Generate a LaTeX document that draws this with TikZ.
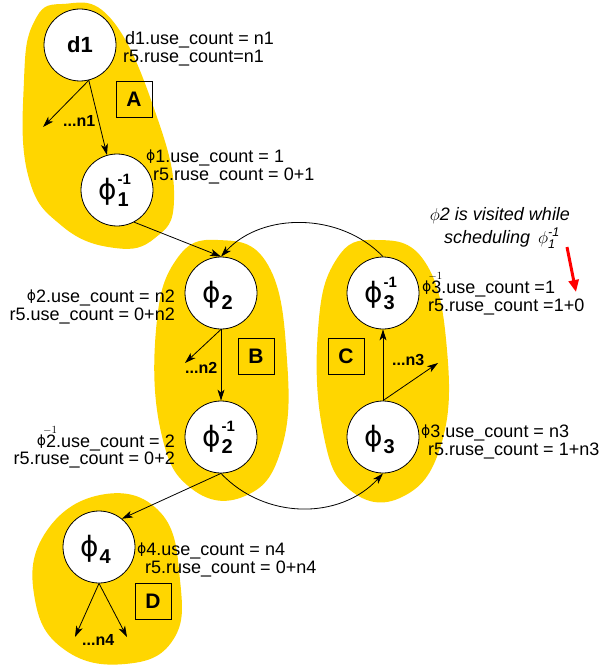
\documentclass[tikz,border=0pt]{standalone}
\usepackage{amsmath}
\usepackage{fontspec}
\setmainfont{Liberation Sans}
\newfontfamily\phf{DejaVu Sans}
\usetikzlibrary{arrows.meta}
\definecolor{blob}{RGB}{255,214,0}

% phi inside a node: #1 subscript, #2 superscript
\newcommand\phn[2]{{\fontsize{28}{28}\phf ϕ}\kern1pt\rlap{\raisebox{15pt}{\fontsize{15}{15}\selectfont\bfseries #2}}\raisebox{-7pt}{\fontsize{20}{20}\selectfont\bfseries #1}\vphantom{\raisebox{15pt}{\fontsize{15}{15}\selectfont\bfseries 1}}\kern7pt}
% phi in the count labels
\newcommand\lph{\raisebox{1.5pt}{\fontsize{14}{14}\phf ϕ}}
\newcommand\lphi{\lph\rlap{\hspace{-3pt}\raisebox{14pt}{\fontsize{11}{11}\selectfont$-1$}}}

\begin{document}
\begin{tikzpicture}[x=1pt,y=-1pt,
  vnode/.style={circle,draw,fill=white,line width=0.8pt,minimum size=72pt,inner sep=0pt},
  arr/.style={-{Stealth[length=11pt,width=7pt,inset=3pt]},line width=0.8pt},
  lab/.style={font=\fontsize{18}{18}\selectfont,inner sep=0pt,anchor=base west},
  labr/.style={lab,anchor=base east},
  more/.style={font=\fontsize{16}{16}\selectfont\bfseries,inner sep=0pt,anchor=base west},
  regbox/.style={draw,line width=0.8pt,minimum size=36pt,inner sep=0pt,font=\fontsize{21}{21}\selectfont\bfseries}]
\useasboundingbox (0,0) rectangle (600,666);

% scheduling regions
\fill[blob] plot[smooth cycle,tension=0.75] coordinates {(62,4) (112,20) (158,120) (174,200) (155,238) (115,248) (62,226) (28,175) (24,80) (34,22)};
\fill[blob] plot[smooth cycle,tension=0.75] coordinates {(218,240) (268,265) (287,360) (281,450) (245,496) (192,489) (161,432) (156,330) (176,260)};
\fill[blob] plot[smooth cycle,tension=0.75] coordinates {(375,240) (425,262) (447,350) (441,445) (402,497) (350,490) (323,432) (318,330) (336,260)};
\fill[blob] plot[smooth cycle,tension=0.75] coordinates {(100,495) (160,512) (180,580) (173,640) (125,664) (65,650) (35,600) (44,535)};

% region labels
\node[regbox] (boxA) at (134,99) {A};
\node[regbox] (boxB) at (256,356) {B};
\node[regbox] (boxC) at (346,356) {C};
\node[regbox] (boxD) at (153,601) {D};

% definitions and phi nodes
\node[vnode,font=\fontsize{22}{22}\selectfont\bfseries] (d1) at (80,45) {d1};
\node[vnode] (p1i) at (117,190) {\phn{1}{-1}};
\node[vnode] (p2) at (221,293) {\phn{2}{}};
\node[vnode] (p2i) at (221,437) {\phn{2}{-1}};
\node[vnode] (p3i) at (383,293) {\phn{3}{-1}};
\node[vnode] (p3) at (383,437) {\phn{3}{}};
\node[vnode] (p4) at (99,547) {\phn{4}{}};

% free ends of the use edges
\coordinate (f1) at (43,127);
\coordinate (f2) at (185,363);
\coordinate (f3) at (438,363);
\coordinate (f4a) at (75,637);
\coordinate (f4b) at (127,637);

% edges
\draw[arr] (d1.-76) -- (p1i.106);
\draw[arr] (d1.-76) -- (f1);
\draw[arr] (p1i.-62) -- (p2.north);
\draw[arr] (p3i.north) .. controls (340,212) and (262,212) .. (p2.north);
\draw[arr] (p2.south) -- (p2i.north);
\draw[arr] (p2.south) -- (f2);
\draw[arr] (p2i.south) .. controls (265,520) and (340,520) .. (p3.south);
\draw[arr] (p2i.south) -- (p4.51);
\draw[arr] (p3.north) -- (p3i.south);
\draw[arr] (p3.north) -- (f3);
\draw[arr] (p4.south) -- (f4a);
\draw[arr] (p4.south) -- (f4b);

% use counts
\node[more] (m1) at (63,127) {...n1};
\node[more] (m2) at (185,373) {...n2};
\node[more] (m3) at (392,365) {...n3};
\node[more] (m4) at (82,645) {...n4};

\node[lab] (c1a) at (125,45) {d1.use\_count = n1};
\node[lab] (c1b) at (123,63) {r5.ruse\_count=n1};
\node[lab] (c2a) at (146,162) {\lph1.use\_count = 1};
\node[lab] (c2b) at (153,180) {r5.ruse\_count = 0+1};
\node[labr] (c3a) at (175,302) {\lph2.use\_count = n2};
\node[labr] (c3b) at (175,320) {r5.use\_count = 0+n2};
\node[labr] (c4a) at (175,447) {\lphi2.use\_count = 2};
\node[labr] (c4b) at (175,464) {r5.ruse\_count = 0+2};
\node[lab] (c5a) at (422,293) {\lphi3.use\_count =1};
\node[lab] (c5b) at (428,311) {r5.ruse\_count =1+0};
\node[lab] (c6a) at (421,437) {\lph3.use\_count = n3};
\node[lab] (c6b) at (428,455) {r5.ruse\_count = 1+n3};
\node[lab] (c7a) at (137,555) {\lph4.use\_count = n4};
\node[lab] (c7b) at (145,573) {r5.ruse\_count = 0+n4};

% note on the visiting order
\node[lab,anchor=base,font=\fontsize{18}{18}\selectfont\itshape] (n1) at (500,220) {$\phi$2 is visited while};
\node[lab,anchor=base,font=\fontsize{18}{18}\selectfont\itshape] (n2) at (502,243) {scheduling \,$\phi^{\text{\itshape -1}}_{\text{\itshape 1}}$};
\coordinate (r1) at (567,247);
\coordinate (r2) at (576,292);
\draw[red,line width=3pt,-{Triangle[length=12pt,width=10pt]}] (r1) -- (r2);
\end{tikzpicture}
\end{document}
